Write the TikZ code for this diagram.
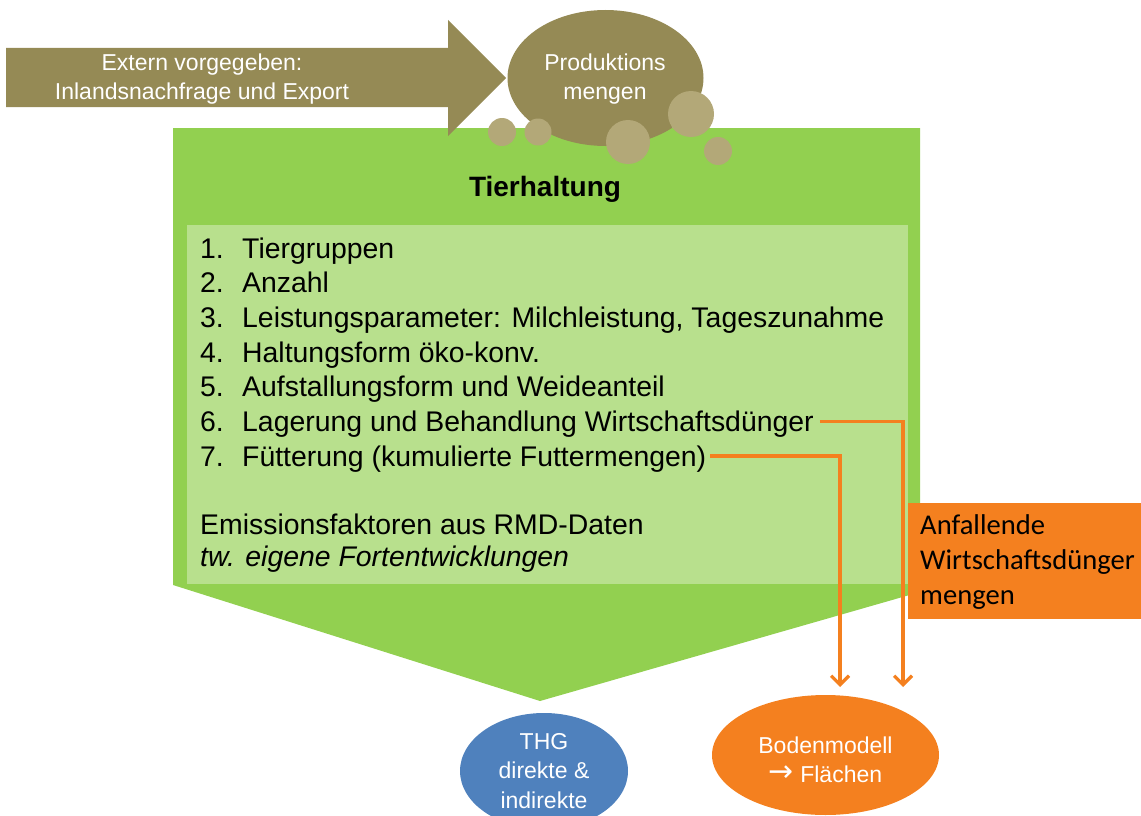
\documentclass[tikz,border=0pt]{standalone}
\usepackage{fontspec}
\setmainfont{Liberation Sans}
\newfontfamily\carlito{Carlito}
\usetikzlibrary{arrows.meta,shapes.geometric}
\definecolor{brownA}{HTML}{958A55}
\definecolor{bubble}{HTML}{B3A878}
\definecolor{greenA}{HTML}{92D050}
\definecolor{greenL}{HTML}{B8E08D}
\definecolor{orangeA}{HTML}{F4801F}
\definecolor{blueA}{HTML}{4F81BD}
\tikzset{
  listtxt/.style={anchor=base west, inner sep=0, font=\fontsize{28.4}{34}\selectfont},
  whitetxt/.style={text=white, align=center, font=\fontsize{23}{29.5}\selectfont},
  bub/.style={fill=bubble, draw=none},
  conn/.style={draw=orangeA, line width=3.2pt, -{Straight Barb[length=9pt,width=18pt]}},
}
\begin{document}
\begin{tikzpicture}[x=1pt,y=-1pt]
\clip (0,0) rectangle (1141,816);
% green big arrow
\fill[greenA] (173,128) -- (920,128) -- (920,592) -- (540,701) -- (173,585) -- cycle;
\fill[greenL] (187,225) rectangle (908,584);
% brown arrow
\fill[brownA] (6,48) -- (448,48) -- (448,20) -- (506,78) -- (448,136) -- (448,107) -- (6,107) -- cycle;
\node[whitetxt] (extern) at (202,79) {Extern vorgegeben:\\Inlandsnachfrage und Export};
% production ellipse
\node[ellipse, fill=brownA, minimum width=196, minimum height=136, inner sep=0] (prodell) at (605.5,78) {};
\node[whitetxt] (prod) at (605,79) {Produktions\\mengen};
% bubbles
\fill[bub] (502,132) circle (14);
\fill[bub] (538,132) circle (13.5);
\fill[bub] (628,142) circle (22);
\fill[bub] (691,114) circle (23);
\fill[bub] (718,151) circle (14);
% title
\node[anchor=base, inner sep=0, font=\fontsize{28}{34}\selectfont\bfseries] (title) at (545,196) {Tierhaltung};
% list
\foreach \n/\t [count=\i from 0] in {1/Tiergruppen, 2/Anzahl, 3/{Leistungsparameter: Milchleistung, Tageszunahme}, 4/Haltungsform öko-konv., 5/Aufstallungsform und Weideanteil, 6/Lagerung und Behandlung Wirtschaftsdünger, 7/Fütterung (kumulierte Futtermengen)} {
  \node[listtxt] (n\n) at (200,258+34.67*\i) {\n.};
  \node[listtxt] (l\n) at (242,258+34.67*\i) {\t};
}
\node[listtxt] (emis) at (200,534) {Emissionsfaktoren aus RMD-Daten};
\node[listtxt, font=\fontsize{28.4}{34}\selectfont\itshape] (tw) at (200,566) {tw. eigene Fortentwicklungen};
% orange box
\node[fill=orangeA, minimum width=233, minimum height=116, anchor=north west, inner sep=0] (box) at (908,503) {};
\node[anchor=west, align=left, inner sep=0, font=\carlito\fontsize{28.6}{35}\selectfont] (boxtxt) at (920,562) {Anfallende\\Wirtschaftsdünger\\mengen};
% bottom ellipses
\node[ellipse, fill=blueA, minimum width=168, minimum height=116, inner sep=0] (thg) at (544,771) {};
\node[whitetxt] (thgtxt) at (544,771) {THG\\direkte \&\\indirekte};
\node[ellipse, fill=orangeA, minimum width=227, minimum height=120, inner sep=0] (boden) at (825.5,755) {};
\node[whitetxt] (bodentxt) at (825.5,760) {Bodenmodell\\{\fontspec{DejaVu Sans}\raisebox{1pt}{\scalebox{1.3}{→}}} Flächen};
% connectors
\coordinate (t6) at (903,687);
\coordinate (t7) at (840,687);
\path (l6.base east) ++(6,-10) coordinate (s6);
\path (l7.base east) ++(4,-10) coordinate (s7);
\draw[conn] (s6) -| (t6);
\draw[conn] (s7) -| (t7);
\end{tikzpicture}
\end{document}
